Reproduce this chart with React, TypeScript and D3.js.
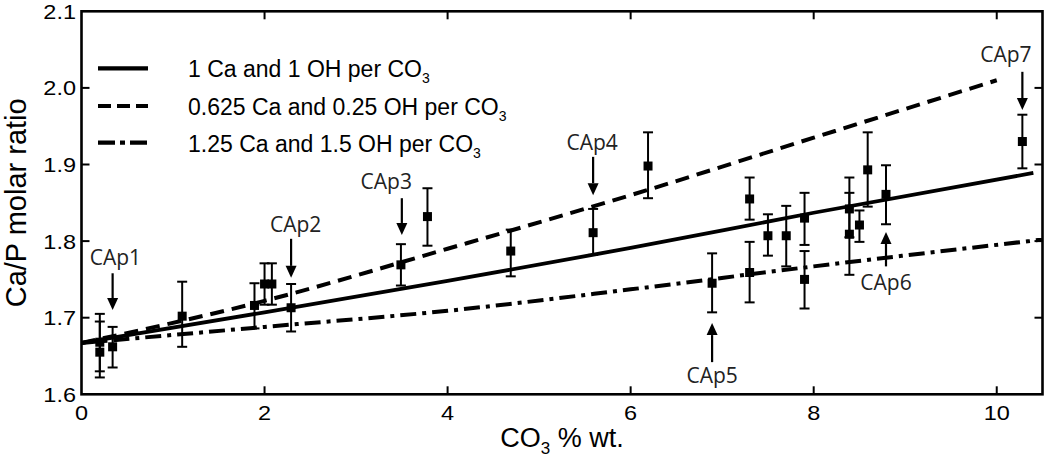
import React from 'react';
import * as d3 from 'd3';

const W = 1050;
const H = 460;

// axis ticks
const xTicks = [0, 2, 4, 6, 8, 10];
const xTickLabels = ['0', '2', '4', '6', '8', '10'];
const yTicks = [1.6, 1.7, 1.8, 1.9, 2.0, 2.1];
const yTickLabels = ['1.6', '1.7', '1.8', '1.9', '2.0', '2.1'];

// measured samples (CO3 % wt., Ca/P molar ratio, error bar low/high)
const pointX = [0.2, 0.2, 0.34, 1.1, 1.89, 2.0, 2.08, 2.29, 3.49, 3.78, 4.69, 5.59, 6.19, 6.89, 7.3, 7.3, 7.5, 7.7, 7.9, 7.9, 8.39, 8.39, 8.5, 8.59, 8.79, 10.28];
const pointY = [1.668, 1.655, 1.662, 1.702, 1.716, 1.744, 1.744, 1.713, 1.769, 1.832, 1.787, 1.811, 1.898, 1.745, 1.855, 1.759, 1.807, 1.807, 1.83, 1.75, 1.842, 1.809, 1.821, 1.893, 1.861, 1.93];
const errLow = [1.63, 1.622, 1.635, 1.662, 1.686, 1.717, 1.717, 1.682, 1.742, 1.794, 1.754, 1.782, 1.856, 1.707, 1.828, 1.72, 1.781, 1.767, 1.795, 1.712, 1.805, 1.756, 1.799, 1.845, 1.822, 1.895];
const errHigh = [1.705, 1.695, 1.688, 1.747, 1.745, 1.771, 1.771, 1.744, 1.796, 1.869, 1.815, 1.842, 1.942, 1.784, 1.883, 1.799, 1.835, 1.846, 1.863, 1.787, 1.883, 1.863, 1.84, 1.942, 1.899, 1.965];

// model curves
const seriesNames = ['1 Ca and 1 OH per CO', '0.625 Ca and 0.25 OH per CO', '1.25 Ca and 1.5 OH per CO'];
const model1X = [0, 2, 4, 6, 8, 10.4];
const model1Y = [1.667, 1.707, 1.748, 1.791, 1.837, 1.889];
const model2X = [0, 2, 4, 6, 8, 10];
const model2Y = [1.667, 1.722, 1.79, 1.86, 1.935, 2.01];
const model3X = [0, 2, 4, 6, 8, 10.5];
const model3Y = [1.667, 1.688, 1.709, 1.737, 1.767, 1.802];

// annotations
const annotNames = ['CAp1', 'CAp2', 'CAp3', 'CAp4', 'CAp5', 'CAp6', 'CAp7'];
const annotX = [0.34, 2.29, 3.5, 5.59, 6.89, 8.79, 10.28];
const annotFrom = [1.758, 1.803, 1.856, 1.91, 1.642, 1.767, 2.021];
const annotTo = [1.71, 1.752, 1.808, 1.86, 1.693, 1.812, 1.971];
const annotLabelX = [0.37, 2.34, 3.33, 5.58, 6.89, 8.79, 10.1];
const annotLabelY = [1.769, 1.812, 1.868, 1.919, 1.615, 1.736, 2.034];

const AXIS_FONT = "'Liberation Sans', Arial, sans-serif";
const NOTE_FONT = "'Open Sans', 'Noto Sans', sans-serif";

export default function App() {
  const left = 81.5, right = 1042.5, top = 11.3, bottom = 394.3;
  const x = d3.scaleLinear().domain([0, 10.5]).range([left, right]);
  const y = d3.scaleLinear().domain([1.6, 2.1]).range([bottom, top]);
  const line = d3.line<[number, number]>().x(d => x(d[0])).y(d => y(d[1])).curve(d3.curveMonotoneX);

  const models = [
    { xs: model1X, ys: model1Y, dash: undefined as string | undefined, w: 3.8 },
    { xs: model2X, ys: model2Y, dash: '14 8', w: 4 },
    { xs: model3X, ys: model3Y, dash: '16 6 4 6', w: 4 },
  ];
  const legendDash = [undefined, '13 6', '17 5 5 5'];
  const legendY = [68.3, 106, 142.7];
  const tickLen = 8;
  const stretch = 1.12;

  return (
    <svg width={W} height={H} style={{ position: 'absolute', left: 0, top: 0, background: '#fff' }}>
      <rect x={0} y={0} width={W} height={H} fill="#fff" />
      {/* model curves */}
      {models.map((m, i) => (
        <path key={'m' + i} d={line(m.xs.map((v, j) => [v, m.ys[j]] as [number, number])) || ''}
          fill="none" stroke="#000" strokeWidth={m.w} strokeDasharray={m.dash} />
      ))}
      {/* error bars and points */}
      {pointX.map((px, i) => {
        const cx = x(px);
        return (
          <g key={'p' + i} stroke="#000" strokeWidth={2}>
            <line x1={cx} x2={cx} y1={y(errLow[i])} y2={y(errHigh[i])} />
            <line x1={cx - 5} x2={cx + 5} y1={y(errLow[i])} y2={y(errLow[i])} />
            <line x1={cx - 5} x2={cx + 5} y1={y(errHigh[i])} y2={y(errHigh[i])} />
            <rect x={cx - 4.5} y={y(pointY[i]) - 4.5} width={9} height={9} fill="#000" stroke="none" />
          </g>
        );
      })}
      {/* annotations */}
      {annotNames.map((n, i) => {
        const ax = x(annotX[i]);
        const y0 = y(annotFrom[i]);
        const y1 = y(annotTo[i]);
        const dir = y1 > y0 ? 1 : -1;
        const headL = 12, headW = 5.5;
        return (
          <g key={'a' + i}>
            <line x1={ax} x2={ax} y1={y0} y2={y1 - dir * headL} stroke="#000" strokeWidth={2.2} />
            <path d={`M${ax - headW},${y1 - dir * headL} L${ax + headW},${y1 - dir * headL} L${ax},${y1} Z`} fill="#000" />
            <text x={x(annotLabelX[i])} y={y(annotLabelY[i])} textAnchor="middle" fontFamily={NOTE_FONT}
              fontSize={21} fill="#222">{n}</text>
          </g>
        );
      })}
      {/* frame */}
      <rect x={left} y={top} width={right - left} height={bottom - top} fill="none" stroke="#000" strokeWidth={2.6} />
      {xTicks.map((t, i) => (
        <g key={'xt' + i}>
          {i > 0 && <line x1={x(t)} x2={x(t)} y1={bottom} y2={bottom - tickLen} stroke="#000" strokeWidth={2} />}
          {i > 0 && <line x1={x(t)} x2={x(t)} y1={top} y2={top + tickLen} stroke="#000" strokeWidth={2} />}
          <text transform={`translate(${x(t)},420) scale(${stretch},1)`} textAnchor="middle" fontFamily={AXIS_FONT}
            fontSize={21} fill="#000">{xTickLabels[i]}</text>
        </g>
      ))}
      {yTicks.map((t, i) => (
        <g key={'yt' + i}>
          {i > 0 && i < yTicks.length - 1 && <line x1={left} x2={left + tickLen} y1={y(t)} y2={y(t)} stroke="#000" strokeWidth={2} />}
          {i > 0 && i < yTicks.length - 1 && <line x1={right} x2={right - tickLen} y1={y(t)} y2={y(t)} stroke="#000" strokeWidth={2} />}
          <text transform={`translate(76,${y(t) + 7.5}) scale(${stretch},1)`} textAnchor="end" fontFamily={AXIS_FONT}
            fontSize={21} fill="#000">{yTickLabels[i]}</text>
        </g>
      ))}
      {/* axis titles */}
      <text transform={`translate(26,${(top + bottom) / 2}) rotate(-90)`} textAnchor="middle"
        fontFamily={AXIS_FONT} fontSize={29} fill="#000">Ca/P molar ratio</text>
      <text x={(left + right) / 2} y={447} textAnchor="middle" fontFamily={AXIS_FONT} fontSize={27} fill="#000">
        CO<tspan fontSize={17} dy={7}>3</tspan><tspan dy={-7}> % wt.</tspan>
      </text>
      {/* legend */}
      {seriesNames.map((s, i) => (
        <g key={'lg' + i}>
          <line x1={98} x2={148} y1={legendY[i]} y2={legendY[i]} stroke="#000" strokeWidth={4.2}
            strokeDasharray={legendDash[i]} />
          <text x={188} y={legendY[i] + 9} fontFamily={AXIS_FONT} fontSize={23} fill="#000">
            {s}<tspan fontSize={14} dy={6}>3</tspan>
          </text>
        </g>
      ))}
    </svg>
  );
}
